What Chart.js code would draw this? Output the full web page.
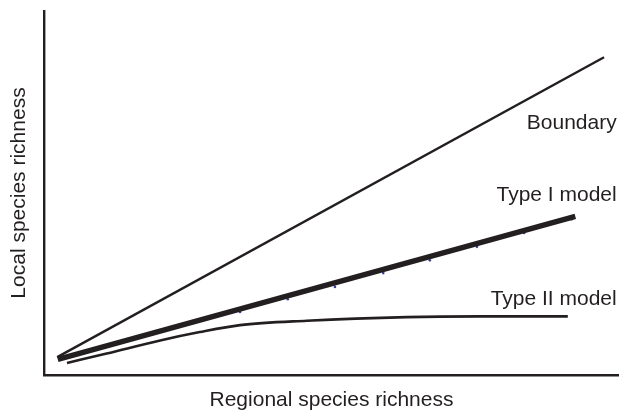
<!DOCTYPE html>
<html>
<head>
<meta charset="utf-8">
<script src="https://cdn.jsdelivr.net/npm/chart.js@4.4.1/dist/chart.umd.min.js"></script>
<style>
  html, body { margin: 0; padding: 0; background: #ffffff; }
  #wrap { width: 619px; height: 410px; position: relative; }
</style>
</head>
<body>
<div id="wrap"><canvas id="chart" width="619" height="410"></canvas></div>
<script>
// Regional richness (x) against local richness (y), arbitrary units 0-100
const boundaryX = [2.3, 97.4];
const boundaryY = [4.9, 87.3];

const typeOneX = [2.4, 92.4];
const typeOneY = [4.3, 43.6];

const typeOneObsX = [34.1, 42.4, 50.6, 59.0, 67.1, 75.3, 83.5, 91.8];
const typeOneObsY = [17.3, 20.8, 24.2, 28.0, 31.5, 35.2, 39.0, 42.8];

const typeTwoX = [4.0, 10.9, 20.2, 27.1, 34.1, 45.7, 63.1, 75.8, 91.1];
const typeTwoY = [3.3, 5.9, 9.5, 11.8, 13.7, 14.9, 15.9, 16.1, 16.1];

const seriesNames = ['Boundary', 'Type I model', 'Type II model'];
const xAxisLabel = 'Regional species richness';
const yAxisLabel = 'Local species richness';

const ink = '#231f20';
const FONT = '21px "Liberation Sans", Arial, Helvetica, sans-serif';

function pairs(xs, ys) { return xs.map((x, i) => ({ x: x, y: ys[i] })); }

// Curve names set beside the right-hand ends, plus the two axis titles
const annotate = {
  id: 'annotate',
  afterDraw(chart) {
    const { ctx, chartArea, scales } = chart;
    ctx.save();
    ctx.fillStyle = ink;
    ctx.font = FONT;
    ctx.textAlign = 'right';
    ctx.textBaseline = 'alphabetic';
    const labelX = scales.x.getPixelForValue(99.6);
    const labelY = [67.6, 47.8, 19.2];
    seriesNames.forEach((name, i) => {
      ctx.fillText(name, labelX, scales.y.getPixelForValue(labelY[i]));
    });
    ctx.textAlign = 'center';
    ctx.fillText(xAxisLabel, (chartArea.left + chartArea.right) / 2, 405.5);
    ctx.translate(25, (chartArea.top + chartArea.bottom) / 2);
    ctx.rotate(-Math.PI / 2);
    ctx.fillText(yAxisLabel, 0, 0);
    ctx.restore();
  }
};

const hiddenAxis = {
  type: 'linear',
  min: 0,
  max: 100,
  ticks: { display: false },
  grid: { display: false, drawTicks: false },
  border: { display: true, color: ink, width: 2.4 },
  title: { display: false }
};

new Chart(document.getElementById('chart'), {
  type: 'scatter',
  data: {
    datasets: [
      {
        label: seriesNames[0],
        data: pairs(boundaryX, boundaryY),
        showLine: true,
        borderColor: ink,
        borderWidth: 2.4,
        pointRadius: 0,
        order: 3
      },
      {
        label: seriesNames[2],
        data: pairs(typeTwoX, typeTwoY),
        showLine: true,
        borderColor: ink,
        borderWidth: 2.6,
        cubicInterpolationMode: 'monotone',
        pointRadius: 0,
        order: 2
      },
      {
        label: 'observed',
        data: pairs(typeOneObsX, typeOneObsY),
        showLine: false,
        pointRadius: 1.3,
        pointBorderWidth: 0,
        pointBackgroundColor: '#3b3f9a',
        order: 4
      },
      {
        label: seriesNames[1],
        data: pairs(typeOneX, typeOneY),
        showLine: true,
        borderColor: ink,
        borderWidth: 5.5,
        borderCapStyle: 'butt',
        pointRadius: 0,
        order: 1
      }
    ]
  },
  options: {
    responsive: false,
    animation: false,
    clip: false,
    layout: { autoPadding: false, padding: { left: 44, right: 0, top: 11, bottom: 35 } },
    plugins: {
      legend: { display: false },
      tooltip: { enabled: false }
    },
    scales: {
      x: Object.assign({}, hiddenAxis, { position: 'bottom' }),
      y: Object.assign({}, hiddenAxis, { position: 'left' })
    }
  },
  plugins: [annotate]
});
</script>
</body>
</html>
